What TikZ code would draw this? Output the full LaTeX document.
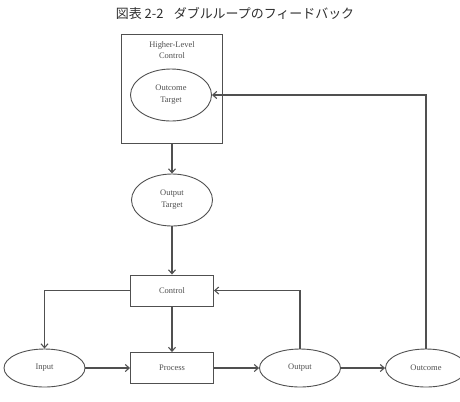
\documentclass[tikz,border=0pt]{standalone}
\usepackage{fontspec}
\setmainfont{Liberation Serif}
\newfontfamily\jpfont{Noto Sans CJK JP}
\usetikzlibrary{shapes.geometric,arrows.meta}

\definecolor{linegray}{HTML}{505050}
\definecolor{titlegray}{HTML}{2E2E2E}

\tikzset{
    arr/.style={draw=linegray, line width=1.1pt, -{Straight Barb[length=4pt,width=7pt]}},
    oval/.style={ellipse, draw=linegray, line width=0.9pt, fill=white, minimum width=81bp, minimum height=38bp, inner sep=0pt, font=\fontsize{8.5}{12}\selectfont, text=linegray, align=center},
    bigoval/.style={oval, minimum width=81bp, minimum height=52bp},
    boxnode/.style={rectangle, draw=linegray, line width=0.9pt, fill=white, minimum width=83bp, minimum height=31bp, inner sep=0pt, font=\fontsize{8.5}{12}\selectfont, text=linegray}
}

\begin{document}
\begin{tikzpicture}[x=1bp, y=-1bp]
    \useasboundingbox (0,0) rectangle (460,401);

    % Title
    \node (title) at (235,13) {\jpfont\fontsize{13}{15}\selectfont\color{titlegray}図表 2-2\hspace{0.8em}ダブルループのフィードバック};

    % Higher level control
    \node (hlc) [draw=linegray, line width=0.9pt, minimum width=101bp, minimum height=109bp] at (172,88.5) {};
    \node (hlctext) [font=\fontsize{8.5}{11.5}\selectfont, text=linegray, align=center] at (172,50) {Higher-Level\\Control};
    \node (octarget) [bigoval] at (171,95) {Outcome\\Target};

    % Target for the first loop
    \node (outtarget) [bigoval] at (172,200) {Output\\Target};

    % First loop
    \node (control) [boxnode] at (172,290.5) {Control};
    \node (input) [oval] at (44.5,368) {Input};
    \node (process) [boxnode] at (172,368) {Process};
    \node (output) [oval] at (300,368) {Output};
    \node (outcome) [oval] at (426,368) {Outcome};

    % Connections
    \draw [arr] (hlc.south) -- (outtarget.north);
    \draw [arr] (outtarget.south) -- (control.north);
    \draw [arr] (control.west) -| (input.north);
    \draw [arr] (control.south) -- (process.north);
    \draw [arr] (input.east) -- (process.west);
    \draw [arr] (process.east) -- (output.west);
    \draw [arr] (output.east) -- (outcome.west);
    \draw [arr] (output.north) |- (control.east);

    % Second loop
    \draw [arr] (outcome.north) |- (octarget.east);
\end{tikzpicture}
\end{document}
